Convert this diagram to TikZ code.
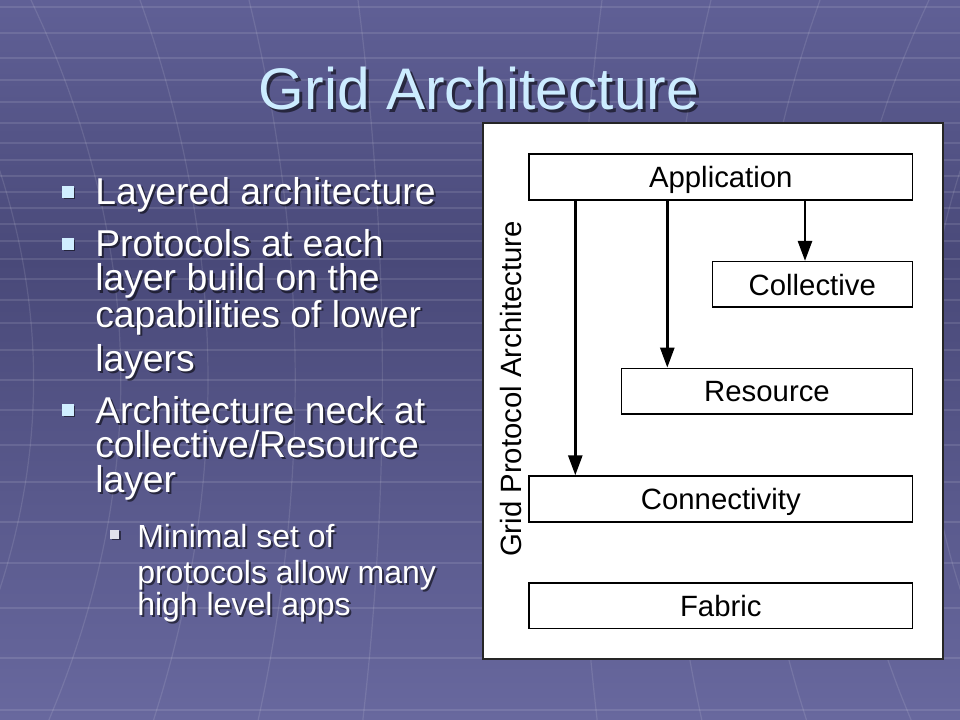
\documentclass[tikz,border=0pt]{standalone}
\usepackage{fontspec}
\setmainfont{Liberation Sans}
\usepackage{tikz}
\usetikzlibrary{arrows.meta}

\definecolor{bgtop}{RGB}{96,96,150}
\definecolor{bgmid}{RGB}{73,73,121}
\definecolor{bgbot}{RGB}{104,104,158}
\definecolor{titleblue}{RGB}{204,236,255}
\definecolor{bulletblue}{RGB}{208,238,255}
\definecolor{subgrey}{RGB}{226,226,236}

\tikzset{
  gridline/.style={white,opacity=0.11,line width=0.9pt},
  titletext/.style={anchor=base,inner sep=0pt,text=titleblue,font=\fontsize{44}{52}\selectfont},
  bullettext/.style={anchor=base west,inner sep=0pt,text=white,font=\fontsize{28}{34}\selectfont},
  subtext/.style={bullettext,font=\fontsize{24}{29}\selectfont},
  drop/.style={text=black,opacity=0.55},
  panelbox/.style={draw=black!85,fill=white,line width=0.8pt,minimum width=345pt,minimum height=402pt,inner sep=0pt},
  layerbox/.style={draw=black,fill=white,line width=1.2pt,minimum height=34.2pt,inner sep=0pt,
    text height=15.8pt,text depth=0pt,font=\fontsize{22}{26}\selectfont},
  arr/.style={line width=2pt,-{Triangle[length=15pt,width=10.5pt]}}
}

\begin{document}
\begin{tikzpicture}[x=0.75pt,y=-0.75pt]
\useasboundingbox (0,0) rectangle (960,720);
% background
\shade[top color=bgtop,bottom color=bgmid] (0,0) rectangle (960,261);
\shade[top color=bgmid,bottom color=bgbot] (0,260) rectangle (960,720);
\begin{scope}
\clip (0,0) rectangle (960,720);
\foreach \yy in {7,33,58,80,102,123,143,160,176,192,208,224,241,259,279,300,323,350,380,410,445,482,522,563,608,658,710}
  \draw[gridline] (0,\yy) -- (960,\yy);
\foreach \u in {-667,-558,-449,-340,-231,-122,122,231,340,449,558,667}
  \draw[gridline] plot[smooth,domain=0:720,samples=25,variable=\t]
    ({480+\u*(0.8+0.2*((\t-380)/380)*((\t-380)/380))},\t);
\end{scope}
% title
\node[titletext,drop] at (482,113) {Grid Architecture};
\node[titletext] (title) at (479,110) {Grid Architecture};
% bullets
\foreach \yy in {192,244,410}{
  \fill[black,opacity=0.5] (63.5,\yy-4.25) rectangle ++(11.5,11.5);
  \fill[bulletblue] (62,\yy-5.75) rectangle ++(11.5,11.5);
}
\fill[black,opacity=0.5] (111.5,531) rectangle ++(9,9);
\fill[subgrey] (110,529.5) rectangle ++(9,9);
\foreach \yy/\tx [count=\i] in {205/Layered architecture,257/Protocols at each,291/layer build on the,
    327/capabilities of lower,371/layers,423/Architecture neck at,457/{collective/Resource},492/layer}{
  \node[bullettext,drop] at (97,\yy+2) {\tx};
  \node[bullettext] (b\i) at (95,\yy) {\tx};
}
\foreach \yy/\tx [count=\i] in {547/Minimal set of,583/protocols allow many,615/high level apps}{
  \node[subtext,drop] at (139,\yy+2) {\tx};
  \node[subtext] (s\i) at (137,\yy) {\tx};
}
% layer diagram
\node[panelbox] (panel) at (713,391) {};
\node[rotate=90,anchor=base,inner sep=0pt,font=\fontsize{22}{26}\selectfont] (gpa) at (521,389) {Grid Protocol Architecture};
\node[layerbox,minimum width=287.3pt] (app) at (720.8,177) {Application};
\node[layerbox,minimum width=150pt] (coll) at (812.3,284.5) {Collective};
\node[layerbox,minimum width=218pt] (res) at (767,391.2) {Resource};
\node[layerbox,minimum width=287.3pt] (conn) at (720.8,498.9) {Connectivity};
\node[layerbox,minimum width=287.3pt] (fab) at (720.8,605.5) {Fabric};
\coordinate (c1) at (575.3,0);
\coordinate (c2) at (667.3,0);
\coordinate (c3) at (805,0);
\draw[arr] (app.south -| c1) -- (conn.north -| c1);
\draw[arr] (app.south -| c2) -- (res.north -| c2);
\draw[arr] (app.south -| c3) -- (coll.north -| c3);
\end{tikzpicture}
\end{document}
